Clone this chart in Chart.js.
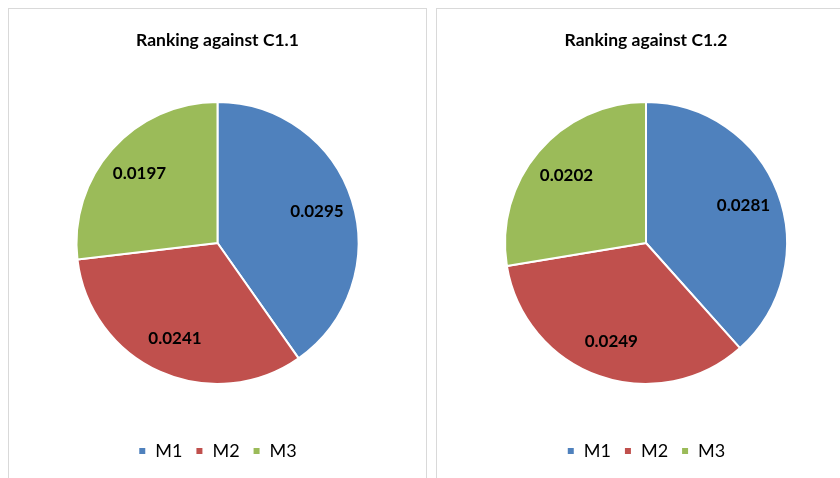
<!DOCTYPE html>
<html>
<head>
<meta charset="utf-8">
<script src="https://cdn.jsdelivr.net/npm/chart.js@4"></script>
<style>
  body { margin: 0; background: #fff; width: 840px; height: 478px; overflow: hidden; position: relative; }
  .panel { position: absolute; top: 8px; height: 490px; border: 1px solid #d9d9d9; box-sizing: border-box; }
  #p1 { left: 8px; width: 419px; }
  #p2 { left: 436px; width: 420px; }
</style>
</head>
<body>
<div class="panel" id="p1"><canvas id="chart1"></canvas></div>
<div class="panel" id="p2"><canvas id="chart2"></canvas></div>
<script>
// data
const categories = ['M1', 'M2', 'M3']
const valuesC11 = [0.0295, 0.0241, 0.0197]
const valuesC12 = [0.0281, 0.0249, 0.0202]
const colors = ['#4F81BD', '#C0504D', '#9BBB59']

// values drawn inside the slices
const sliceLabels = {
  id: 'sliceLabels',
  afterDatasetsDraw(chart) {
    const ctx = chart.ctx
    const meta = chart.getDatasetMeta(0)
    ctx.save()
    ctx.font = 'bold 17px Lato'
    ctx.fillStyle = '#000'
    ctx.textAlign = 'center'
    ctx.textBaseline = 'middle'
    meta.data.forEach((arc, i) => {
      const { x, y, startAngle, endAngle, outerRadius } = arc.getProps(
        ['x', 'y', 'startAngle', 'endAngle', 'outerRadius'], true)
      const mid = (startAngle + endAngle) / 2
      const r = outerRadius * 0.74
      ctx.fillText(chart.data.datasets[0].data[i].toFixed(4), x + r * Math.cos(mid), y + r * Math.sin(mid))
    })
    ctx.restore()
  },
}

const makePie = (id, title, values) => {
  return new Chart(id, {
    type: 'pie',
    data: {
      labels: categories,
      datasets: [{
        data: values,
        backgroundColor: colors,
        borderColor: '#fff',
        borderWidth: 2,
        radius: 141,
      }],
    },
    options: {
      responsive: true,
      maintainAspectRatio: false,
      animation: false,
      layout: { padding: { top: 11, bottom: 27 } },
      plugins: {
        title: {
          display: true,
          text: title,
          color: '#000',
          font: { family: 'Lato', size: 17.5, weight: 'bold' },
          padding: { top: 10, bottom: 6 },
        },
        legend: {
          position: 'bottom',
          labels: {
            boxWidth: 8,
            boxHeight: 8,
            padding: 13,
            color: '#000',
            font: { family: 'Lato', size: 18 },
          },
        },
        tooltip: { enabled: false },
      },
    },
    plugins: [sliceLabels],
  })
}

makePie('chart1', 'Ranking against C1.1', valuesC11)
makePie('chart2', 'Ranking against C1.2', valuesC12)
</script>
</body>
</html>
